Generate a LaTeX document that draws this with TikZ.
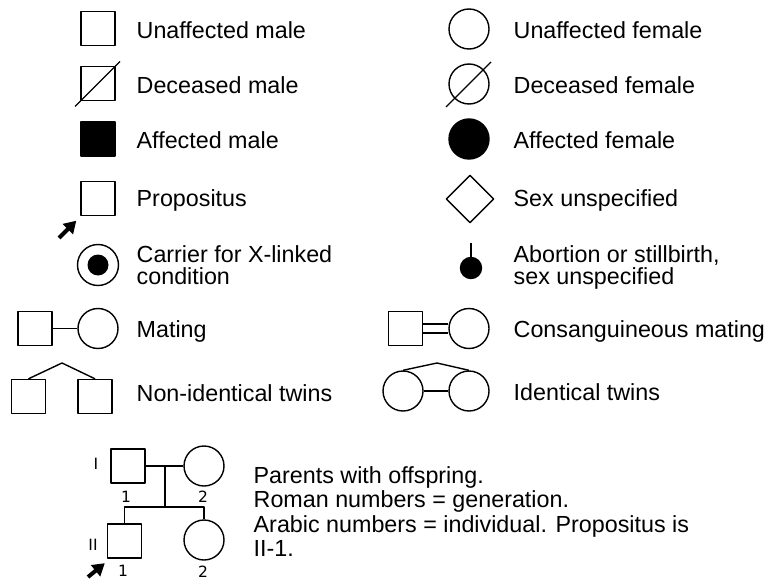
\documentclass[tikz,border=0pt]{standalone}
\usepackage{fontspec}
\setmainfont{Liberation Sans}
\newfontfamily\numfont{DejaVu Sans}
\usetikzlibrary{shapes.geometric,arrows.meta}

\begin{document}
\begin{tikzpicture}[x=1pt, y=-1pt, line width=1.4pt, line join=round,
		male/.style={draw, rectangle, minimum size=34pt, inner sep=0pt},
		female/.style={draw, circle, minimum size=40pt, inner sep=0pt},
		unknown/.style={draw, diamond, minimum size=48pt, inner sep=0pt},
		lbl/.style={anchor=base west, inner sep=0pt, font=\fontsize{23.3}{22}\selectfont},
		num/.style={inner sep=0pt, font=\numfont\fontsize{15.5}{15.5}\selectfont},
		parrow/.style={line width=4pt, -{Triangle[length=12pt,width=14pt]}}]
	\useasboundingbox (0,0) rectangle (773,580);
	\def\xl{136}
	\def\xr{513}
	\path
	(59,238) coordinate (pa)
	(88,577) coordinate (pb)
	(471,243) coordinate (abt)
	(62,363) coordinate (nta)
	(437,363) coordinate (ita)
	(165,466) coordinate (mid)
	(165,507) coordinate (sib)
	;
	
	% unaffected
	\node[male] (um) at (98,28.5) {};
	\node[female] (uf) at (469,29) {};
	\node[lbl] (umt) at (\xl,38.5) {Unaffected male};
	\node[lbl] (uft) at (\xr,38.5) {Unaffected female};
	
	% deceased
	\node[male] (dm) at (98,83.5) {};
	\node[female] (df) at (469,84) {};
	\draw ([shift={(-23,23)}]dm.center) -- ([shift={(22,-22)}]dm.center);
	\draw ([shift={(-23,23)}]df.center) -- ([shift={(22,-22)}]df.center);
	\node[lbl] (dmt) at (\xl,93.5) {Deceased male};
	\node[lbl] (dft) at (\xr,93.5) {Deceased female};
	
	% affected
	\node[male, fill] (am) at (98,139) {};
	\node[female, fill] (af) at (469,139) {};
	\node[lbl] (amt) at (\xl,148.5) {Affected male};
	\node[lbl] (aft) at (\xr,148.5) {Affected female};
	
	% propositus, sex unspecified
	\node[male] (pm) at (98,198.5) {};
	\draw[parrow] (pa) -- ([shift={(-4,4.5)}]pm.south west);
	\node[unknown] (su) at (470,199) {};
	\node[lbl] (pmt) at (\xl,206) {Propositus};
	\node[lbl] (sut) at (\xr,206) {Sex unspecified};
	
	% carrier, abortion
	\node[female, minimum size=41pt] (cf) at (98,265) {};
	\fill (cf.center) circle (10.5pt);
	\node[female, fill, minimum size=21pt] (ab) at (471,268) {};
	\draw (abt) -- (ab);
	\node[lbl] (cft1) at (\xl,262) {Carrier for X-linked};
	\node[lbl] (cft2) at (\xl,284) {condition};
	\node[lbl] (abt1) at (\xr,262) {Abortion or stillbirth,};
	\node[lbl] (abt2) at (\xr,284) {sex unspecified};
	
	% matings
	\node[male] (mm) at (35,328.5) {};
	\node[female] (mf) at (98,328.5) {};
	\draw (mm) -- (mf);
	\node[male] (cm) at (405.5,328.5) {};
	\node[female] (cw) at (469,328.5) {};
	\draw[double, double distance=7.6pt] (cm) -- (cw);
	\node[lbl] (mt) at (\xl,337) {Mating};
	\node[lbl] (ct) at (\xr,337) {Consanguineous mating};
	
	% twins
	\node[male] (nt1) at (28.5,396.5) {};
	\node[male] (nt2) at (95,396.5) {};
	\draw (nt1.north) -- (nta) -- (nt2.north);
	\node[female] (it1) at (403,391) {};
	\node[female] (it2) at (469,391) {};
	\draw (it1.north) -- (ita) -- (it2.north);
	\draw (it1) -- (it2);
	\node[lbl] (ntt) at (\xl,401) {Non-identical twins};
	\node[lbl] (itt) at (\xr,400) {Identical twins};
	
	% pedigree
	\node[male] (i1) at (128,466) {};
	\node[female] (i2) at (204,466) {};
	\node[male] (ii1) at (124.5,541) {};
	\node[female] (ii2) at (204,540) {};
	\draw (i1) -- (i2);
	\draw (mid) -- (sib);
	\draw (ii1.north) |- (sib) -| (ii2.north);
	\draw[parrow] (pb) -- ([shift={(-2,4.5)}]ii1.south west);
	\node[num] (g1) at (96,464) {I};
	\node[num] (g2) at (93,545) {II};
	\node[num] (n11) at (126,497) {1};
	\node[num] (n12) at (203,497) {2};
	\node[num] (n21) at (123,571) {1};
	\node[num] (n22) at (203,572) {2};
	\node[lbl] (pt1) at (253,483) {Parents with offspring.};
	\node[lbl] (pt2) at (253,507.5) {Roman numbers = generation.};
	\node[lbl] (pt3) at (253,532) {Arabic numbers = individual. Propositus is};
	\node[lbl] (pt4) at (253,556.5) {II-1.};
\end{tikzpicture}
\end{document}
